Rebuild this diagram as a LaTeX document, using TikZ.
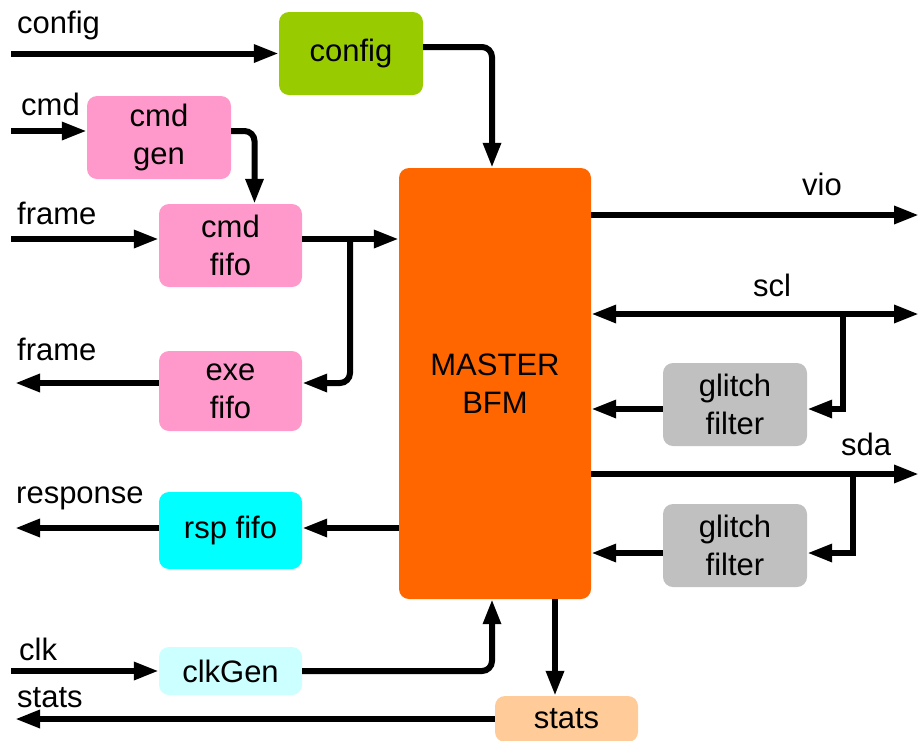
\documentclass[tikz,border=0pt]{standalone}
\usepackage{fontspec}
\setmainfont{Liberation Sans}
\usetikzlibrary{arrows.meta}
\definecolor{cfggreen}{HTML}{99CC00}
\definecolor{pinkbox}{HTML}{FF99CC}
\definecolor{bfmorange}{HTML}{FF6600}
\definecolor{rspcyan}{HTML}{00FFFF}
\definecolor{clkcyan}{HTML}{CCFFFF}
\definecolor{statspeach}{HTML}{FFCC99}
\definecolor{glitchgray}{HTML}{C0C0C0}
\begin{document}
\begin{tikzpicture}[x=1pt,y=-1pt,
  box/.style={rounded corners=10pt, inner sep=0pt, align=center, font=\fontsize{31}{38}\selectfont},
  lbl/.style={anchor=base west, inner sep=0pt, font=\fontsize{31}{38}\selectfont},
  arr/.style={line width=6pt, -{Triangle[length=25pt,width=17pt]}},
  darr/.style={line width=6pt, {Triangle[length=25pt,width=17pt]}-{Triangle[length=25pt,width=17pt]}},
  ln/.style={line width=6pt},
]
\useasboundingbox (0,0) rectangle (919,740);

% boxes
\node[box, fill=cfggreen, minimum width=144pt, minimum height=83pt] (cfg) at (351,53.5) {config};
\node[box, fill=pinkbox, minimum width=144pt, minimum height=83pt] (gen) at (159,137.5) {cmd\\gen};
\node[box, fill=pinkbox, minimum width=143pt, minimum height=83pt] (cfifo) at (230.5,245.5) {cmd\\fifo};
\node[box, fill=pinkbox, minimum width=143pt, minimum height=80pt] (efifo) at (230.5,391) {exe\\fifo};
\node[box, fill=rspcyan, minimum width=143pt, minimum height=77pt] (rsp) at (230.5,530.5) {rsp fifo};
\node[box, fill=clkcyan, minimum width=143pt, minimum height=48pt] (clkgen) at (230.5,671) {clkGen};
\node[box, fill=statspeach, minimum width=143pt, minimum height=46pt] (stats) at (566.5,719) {stats};
\node[box, fill=bfmorange, minimum width=192pt, minimum height=431pt] (bfm) at (495,383.5) {MASTER\\BFM};
\node[box, fill=glitchgray, minimum width=144pt, minimum height=83pt] (g1) at (735,404.5) {glitch\\filter};
\node[box, fill=glitchgray, minimum width=144pt, minimum height=83pt] (g2) at (735,545.5) {glitch\\filter};

% labels
\node[lbl] (lcfg) at (17,33) {config};
\node[lbl] (lcmd) at (21,115) {cmd};
\node[lbl] (lframe1) at (17,224) {frame};
\node[lbl] (lframe2) at (17,360) {frame};
\node[lbl] (lrsp) at (16,503) {response};
\node[lbl] (lclk) at (19,660) {clk};
\node[lbl] (lstats) at (17,707) {stats};
\node[lbl] (lvio) at (802,195) {vio};
\node[lbl] (lscl) at (753,296) {scl};
\node[lbl] (lsda) at (841,455) {sda};

% free ends
\coordinate (cfgin) at (11,53.5);
\coordinate (cmdin) at (11,131);
\coordinate (framein) at (11,239);
\coordinate (frameout) at (15,383);
\coordinate (rspout) at (15,528);
\coordinate (clkin) at (11,671);
\coordinate (statsout) at (15,719);
\coordinate (vioout) at (919,215);
\coordinate (sclout) at (919,314);
\coordinate (sdaout) at (919,474);
\coordinate (j1) at (350,239);
\coordinate (jscl) at (843,314);
\coordinate (jsda) at (853,474);

% connectors
\draw[arr] (cfgin) -- (cfg.west);
\draw[arr, rounded corners=10pt] ([yshift=6.5pt]cfg.east) -| ([xshift=-3pt]bfm.north);
\draw[arr] (cmdin) -- ([yshift=6.5pt]gen.west);
\draw[arr, rounded corners=10pt] ([yshift=6.5pt]gen.east) -| ([xshift=24pt]cfifo.north);
\draw[arr] (framein) -- ([yshift=6.5pt]cfifo.west);
\draw[arr] ([yshift=6.5pt]cfifo.east) -- ([yshift=6.5pt]cfifo.east -| bfm.west);
\draw[arr, rounded corners=10pt] (j1) |- ([yshift=8pt]efifo.east);
\draw[arr] ([yshift=8pt]efifo.west) -- (frameout);
\draw[arr] ([yshift=2.5pt]rsp.east -| bfm.west) -- ([yshift=2.5pt]rsp.east);
\draw[arr] ([yshift=2.5pt]rsp.west) -- (rspout);
\draw[arr] (clkin) -- (clkgen.west);
\draw[arr, rounded corners=10pt] (clkgen.east) -| ([xshift=-3pt]bfm.south);
\draw[arr] ([xshift=60pt]bfm.south) -- ([xshift=60pt]bfm.south |- stats.north);
\draw[arr] (stats.west) -- (statsout);
\draw[arr] (bfm.east |- vioout) -- (vioout);
\draw[darr] (bfm.east |- sclout) -- (sclout);
\draw[arr] (jscl) |- ([yshift=-4.5pt]g1.east);
\draw[arr] ([yshift=-4.5pt]g1.west) -- ([yshift=-4.5pt]g1.west -| bfm.east);
\draw[arr] (bfm.east |- sdaout) -- (sdaout);
\draw[arr] (jsda) |- ([yshift=-7.5pt]g2.east);
\draw[arr] ([yshift=-7.5pt]g2.west) -- ([yshift=-7.5pt]g2.west -| bfm.east);
\end{tikzpicture}
\end{document}
